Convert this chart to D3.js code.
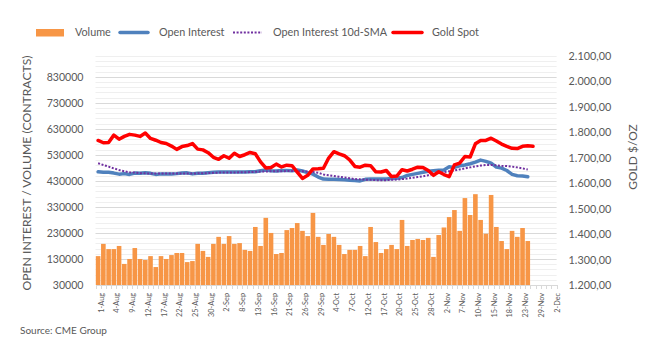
<!DOCTYPE html>
<html><head><meta charset="utf-8">
<script src="https://cdn.jsdelivr.net/npm/d3@7"></script>
<style>
body{margin:0;background:#fff}
svg{display:block}
text{font-family:Lato,"Liberation Sans",sans-serif;fill:#595959}
</style></head>
<body><svg id="chart" width="659" height="355"></svg>
<script>
// ---- data ----
const categories = [
 "1-Aug","2-Aug","3-Aug","4-Aug","5-Aug","8-Aug","9-Aug","10-Aug","11-Aug","12-Aug",
 "15-Aug","16-Aug","17-Aug","18-Aug","19-Aug","22-Aug","23-Aug","24-Aug","25-Aug","26-Aug",
 "29-Aug","30-Aug","31-Aug","1-Sep","2-Sep","6-Sep","7-Sep","8-Sep","9-Sep","12-Sep",
 "13-Sep","14-Sep","15-Sep","16-Sep","19-Sep","20-Sep","21-Sep","22-Sep","23-Sep","26-Sep",
 "27-Sep","28-Sep","29-Sep","30-Sep","3-Oct","4-Oct","5-Oct","6-Oct","7-Oct","10-Oct",
 "11-Oct","12-Oct","13-Oct","14-Oct","17-Oct","18-Oct","19-Oct","20-Oct","21-Oct","24-Oct",
 "25-Oct","26-Oct","27-Oct","28-Oct","31-Oct","1-Nov","2-Nov","3-Nov","4-Nov","7-Nov",
 "8-Nov","9-Nov","10-Nov","11-Nov","14-Nov","15-Nov","16-Nov","17-Nov","18-Nov","21-Nov",
 "22-Nov","23-Nov","25-Nov","28-Nov","29-Nov","30-Nov","1-Dec","2-Dec"
];
const volume = [
 141000,188000,168000,168000,180000,111000,130000,172000,130000,126000,
 141000,99000,141000,130000,145000,153000,153000,118000,122000,188000,
 161000,138000,188000,215000,188000,218000,188000,191000,165000,161000,
 253000,180000,288000,230000,149000,153000,241000,249000,268000,238000,
 218000,307000,215000,184000,226000,215000,184000,149000,165000,165000,
 180000,141000,253000,195000,153000,168000,184000,168000,280000,180000,
 203000,207000,203000,211000,138000,222000,251000,291000,318000,238000,
 364000,299000,379000,280000,227000,376000,253000,199000,168000,238000,
 215000,249000,199000
];
const openInterest = [
 465000,463000,463000,460000,456000,458000,455000,460000,459000,461000,
 459000,455000,457000,457000,457000,458000,460000,461000,457000,459000,
 459000,461000,463000,464000,464000,464000,464000,464000,464000,465000,
 465000,469000,472000,469000,468000,470000,470000,469000,472000,468000,
 462000,456000,445000,437000,436000,436000,435000,434000,433000,432000,
 430000,436000,437000,437000,437000,437000,439000,440000,443000,451000,
 455000,459000,463000,467000,469000,471000,472000,484000,482000,488000,
 491000,496000,502000,510000,505000,498000,483000,479000,470000,455000,
 450000,449000,446000
];
const openInterestSma = [
 498000,491000,485000,478000,472000,467000,463000,462000,460000,459000,
 458000,458000,458000,458000,458000,458000,458000,458000,458000,459000,
 459000,460000,461000,462000,462000,462000,462000,463000,463000,464000,
 465000,466000,466000,467000,467000,467000,468000,468000,468000,467000,
 466000,464000,461000,455000,452000,449000,446000,443000,440000,437000,
 436000,435000,434000,433000,433000,433000,434000,435000,437000,439000,
 442000,445000,448000,452000,456000,460000,464000,467000,470000,474000,
 478000,482000,486000,489000,491000,491000,490000,488000,487000,485000,
 482000,478000,474000
];
const goldSpot = [
 1768,1759,1760,1789,1773,1784,1792,1789,1784,1797,
 1776,1769,1760,1756,1746,1733,1744,1748,1756,1734,
 1731,1720,1702,1694,1708,1698,1718,1705,1712,1721,
 1716,1684,1660,1662,1675,1664,1671,1669,1644,1619,
 1631,1656,1657,1659,1699,1724,1715,1708,1692,1666,
 1663,1671,1669,1645,1644,1650,1626,1628,1653,1648,
 1655,1663,1662,1650,1631,1645,1634,1626,1672,1679,
 1705,1703,1755,1768,1768,1777,1766,1754,1745,1737,
 1736,1745,1747,1745
];
const leftTicks = [30000,130000,230000,330000,430000,530000,630000,730000,830000];
const rightTicks = [1200,1300,1400,1500,1600,1700,1800,1900,2000,2100];
const legendItems = ["Volume","Open Interest","Open Interest 10d-SMA","Gold Spot"];

// ---- layout ----
const svg = d3.select("#chart");
const P = {left:95.5, right:556.6, top:56, bottom:285};
const x = d3.scaleBand().domain(categories).range([P.left,P.right]).paddingInner(0.12).paddingOuter(0.06);
const yL = d3.scaleLinear().domain([30000,910000]).range([P.bottom,P.top]);
const yR = d3.scaleLinear().domain([1200,2100]).range([P.bottom,P.top]);
const cx = c => x(c) + x.bandwidth()/2;
const crisp = v => Math.round(v) + 0.5;

// gridlines
const grid = svg.append("g");
grid.selectAll("line.minor").data(d3.range(50000, 910001, 20000).filter(v => (v-30000)%100000 !== 0))
 .join("line").attr("x1",P.left).attr("x2",P.right)
 .attr("y1",d=>crisp(yL(d))).attr("y2",d=>crisp(yL(d)))
 .attr("stroke","#efefef").attr("stroke-width",1);
grid.selectAll("line.major").data(leftTicks.slice(1))
 .join("line").attr("x1",P.left).attr("x2",P.right)
 .attr("y1",d=>crisp(yL(d))).attr("y2",d=>crisp(yL(d)))
 .attr("stroke","#d9d9d9").attr("stroke-width",1);

// bars
svg.append("g").selectAll("rect").data(volume).join("rect")
 .attr("x",(d,i)=>x(categories[i])).attr("width",x.bandwidth())
 .attr("y",d=>yL(d)).attr("height",d=>yL(30000)-yL(d))
 .attr("fill","#F79646");

// bottom axis
const xAxis = svg.append("g").attr("transform",`translate(0,${crisp(P.bottom)-0.5})`)
 .call(d3.axisBottom(x).tickValues(categories.filter((d,i)=>i%3===0)).tickSize(0).tickPadding(0));
xAxis.select(".domain").attr("stroke","#d9d9d9");
xAxis.selectAll(".tick text")
 .attr("font-family","Lato").attr("font-size",7.3).attr("fill","#595959")
 .attr("text-anchor","end").attr("dy","0.35em")
 .attr("transform","translate(3,8) rotate(-90)").attr("x",0).attr("y",0);
// category boundary tick marks
const bounds = categories.map(c => x(c) - x.step()*x.paddingInner()/2).concat([P.right]);
svg.append("g").selectAll("line").data(bounds).join("line")
 .attr("x1",d=>crisp(d)).attr("x2",d=>crisp(d))
 .attr("y1",P.bottom).attr("y2",P.bottom+4)
 .attr("stroke","#d9d9d9");

// left axis
const la = svg.append("g").attr("transform",`translate(${P.left},0)`)
 .call(d3.axisLeft(yL).tickValues(leftTicks).tickSize(0).tickPadding(12).tickFormat(d3.format("d")));
la.select(".domain").remove();
la.selectAll("text").attr("font-family","Lato").attr("font-size",10.6).attr("fill","#595959");

// right axis
const deLocale = d3.formatLocale({decimal:",",thousands:".",grouping:[3],currency:["",""]});
const ra = svg.append("g").attr("transform",`translate(${P.right},0)`)
 .call(d3.axisRight(yR).tickValues(rightTicks).tickSize(0).tickPadding(12).tickFormat(deLocale.format(",.2f")));
ra.select(".domain").remove();
ra.selectAll("text").attr("font-family","Lato").attr("font-size",10.8).attr("fill","#595959");

// lines
const lineL = d3.line().x((d,i)=>cx(categories[i])).y(d=>yL(d));
const lineR = d3.line().x((d,i)=>cx(categories[i])).y(d=>yR(d));
svg.append("path").datum(openInterest).attr("d",lineL).attr("fill","none")
 .attr("stroke","#4F81BD").attr("stroke-width",3.5).attr("stroke-linejoin","round").attr("stroke-linecap","round");
svg.append("path").datum(openInterestSma).attr("d",lineL).attr("fill","none")
 .attr("stroke","#7030A0").attr("stroke-width",2).attr("stroke-dasharray","2,1.6");
svg.append("path").datum(goldSpot).attr("d",lineR).attr("fill","none")
 .attr("stroke","#FF0000").attr("stroke-width",3.5).attr("stroke-linejoin","round").attr("stroke-linecap","round");

// axis titles
svg.append("text").attr("transform","translate(31,173) rotate(-90)")
 .attr("text-anchor","middle").attr("font-size",12.2).text("OPEN INTEREST / VOLUME (CONTRACTS)");
svg.append("text").attr("transform","translate(637,157) rotate(-90)")
 .attr("text-anchor","middle").attr("font-size",12).text("GOLD $/OZ");

// legend
const lg = svg.append("g");
lg.append("rect").attr("x",36).attr("y",29).attr("width",28).attr("height",7.5).attr("fill","#F79646");
lg.append("line").attr("x1",120).attr("x2",148).attr("y1",32.5).attr("y2",32.5)
 .attr("stroke","#4F81BD").attr("stroke-width",3.5).attr("stroke-linecap","round");
lg.append("line").attr("x1",233).attr("x2",262).attr("y1",32.5).attr("y2",32.5)
 .attr("stroke","#7030A0").attr("stroke-width",2).attr("stroke-dasharray","2,1.6");
lg.append("line").attr("x1",393).attr("x2",422).attr("y1",32.5).attr("y2",32.5)
 .attr("stroke","#FF0000").attr("stroke-width",3.5).attr("stroke-linecap","round");
const lx = [75,159,273,432];
lg.selectAll("text").data(legendItems).join("text")
 .attr("x",(d,i)=>lx[i]).attr("y",36.3).attr("font-size",10.8).text(d=>d);

// source
svg.append("text").attr("x",20).attr("y",334).attr("font-size",10).attr("fill","#000").text("Source: CME Group");
</script>
</body></html>
